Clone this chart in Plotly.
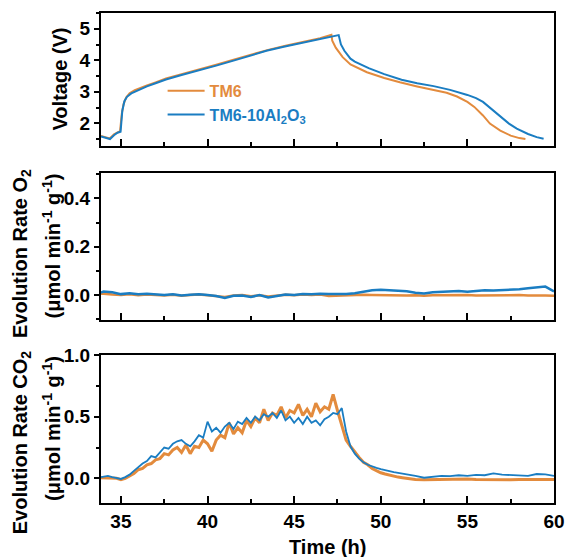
import plotly.graph_objects as go

ORANGE = "#E38B3D"
BLUE = "#1A7DC2"
NAME_A = "TM6"
NAME_B = "TM6-10Al<sub>2</sub>O<sub>3</sub>"

# ---------------- Voltage ----------------
v_t_a = [33.85, 34.1, 34.35, 34.6, 34.85, 34.95, 35.05, 35.15, 35.3, 35.5, 35.8, 36.1, 36.5, 37.0, 37.6,
         38.5, 39.5, 40.5, 41.5, 42.5, 43.5, 44.5, 45.5, 46.5, 47.15, 47.2, 47.4, 47.8, 48.25, 49.2, 50.2,
         51.1, 52.1, 53.05, 53.8, 54.4, 55.0, 55.4, 55.9, 56.3, 56.9, 57.5, 58.0, 58.35]
v_a = [1.6, 1.55, 1.52, 1.65, 1.72, 1.75, 2.3, 2.6, 2.82, 2.95, 3.05, 3.12, 3.2, 3.3, 3.42,
       3.56, 3.7, 3.86, 4.02, 4.18, 4.33, 4.46, 4.58, 4.7, 4.81, 4.62, 4.4, 4.1, 3.87, 3.62, 3.44,
       3.3, 3.17, 3.07, 2.97, 2.85, 2.68, 2.52, 2.25, 1.99, 1.77, 1.61, 1.53, 1.5]

v_t_b = [33.85, 34.1, 34.37, 34.6, 34.8, 34.98, 35.08, 35.2, 35.35, 35.6, 36.1, 36.5, 37.0, 37.6,
         38.5, 39.5, 40.5, 41.5, 42.5, 43.4, 44.4, 45.5, 46.5, 47.3, 47.57, 47.7, 47.9, 48.25, 48.5, 49.3,
         50.2, 51.2, 52.1, 53.05, 54.0, 55.0, 55.5, 55.9, 56.4, 56.9, 57.4, 57.85, 58.5, 59.0, 59.4]
v_b = [1.58, 1.53, 1.5, 1.62, 1.7, 1.73, 2.4, 2.7, 2.84, 2.95, 3.08, 3.17, 3.27, 3.39,
       3.53, 3.67, 3.83, 3.99, 4.15, 4.3, 4.43, 4.56, 4.67, 4.76, 4.8, 4.5, 4.3, 4.05, 3.96, 3.75,
       3.56, 3.38, 3.27, 3.18, 3.06, 2.9, 2.8, 2.68, 2.45, 2.2, 1.99, 1.83, 1.66, 1.56, 1.51]

# ---------------- O2 evolution ----------------
o2_t = [33.85, 34.0, 34.5, 35.0, 35.5, 36.0, 36.5, 37.0, 37.5, 38.0, 38.5, 39.0, 39.5, 40.0, 40.5,
        41.0, 41.5, 42.0, 42.5, 43.0, 43.5, 44.0, 44.5, 45.0, 45.5, 46.0, 46.5, 47.0, 47.5, 48.0,
        48.5, 49.0, 49.5, 50.0, 50.5, 51.0, 51.5, 52.0, 52.5, 53.0, 53.5, 54.0, 54.5, 55.0, 55.5,
        56.0, 56.5, 57.0, 57.5, 58.0, 58.5, 59.0, 59.5, 60.0]
o2_a = [0.005, 0.006, 0.002, 0.0, 0.003, -0.001, 0.002, 0.0, -0.002, 0.001, -0.003, 0.0, 0.002, -0.001, -0.004,
        -0.008, -0.002, 0.0, -0.005, -0.001, -0.006, -0.002, 0.001, -0.001, 0.002, 0.0, 0.002, -0.004, -0.002, -0.001,
        0.0, 0.001, 0.0, -0.001, 0.001, 0.0, -0.002, -0.001, -0.003, -0.001, 0.0, -0.002, -0.001, 0.0, -0.002,
        -0.001, 0.0, -0.002, -0.001, 0.0, -0.002, -0.001, -0.002, -0.003]
o2_b = [0.01, 0.015, 0.012, 0.004, 0.008, 0.003, 0.006, 0.004, 0.0, 0.003, -0.002, 0.001, 0.003, 0.0, -0.004,
        -0.012, -0.003, -0.002, -0.008, 0.0, -0.01, -0.004, 0.002, 0.0, 0.004, 0.003, 0.006, 0.005, 0.004, 0.005,
        0.008, 0.015, 0.02, 0.022, 0.02, 0.018, 0.016, 0.01, 0.007, 0.012, 0.014, 0.015, 0.017, 0.014, 0.018,
        0.02, 0.019, 0.02, 0.022, 0.024, 0.028, 0.033, 0.035, 0.015]

# ---------------- CO2 evolution ----------------
co2_t = [33.85, 34.0, 34.25, 34.5, 34.75, 35.0, 35.25, 35.5, 35.75, 36.0, 36.25, 36.5, 36.75, 37.0, 37.25,
         37.5, 37.75, 38.0, 38.25, 38.5, 38.75, 39.0, 39.25, 39.5, 39.75, 40.0, 40.25, 40.5, 40.75, 41.0,
         41.25, 41.5, 41.75, 42.0, 42.25, 42.5, 42.75, 43.0, 43.25, 43.5, 43.75, 44.0, 44.25, 44.5, 44.75,
         45.0, 45.25, 45.5, 45.75, 46.0, 46.25, 46.5, 46.75, 47.0, 47.25, 47.5, 47.75, 48.0, 48.25, 48.5,
         48.75, 49.0, 49.25, 49.5, 49.75, 50.0, 50.25, 50.5, 50.75, 51.0, 51.25, 51.5, 51.75, 52.0, 52.5,
         53.0, 53.5, 54.0, 54.5, 55.0, 55.5, 56.0, 56.5, 57.0, 57.5, 58.0, 58.5, 59.0, 59.5, 60.0]
co2_a = [0.005, 0.005, 0.0, 0.005, 0.0, -0.01, 0.0, 0.02, 0.04, 0.07, 0.08, 0.11, 0.12, 0.15, 0.16,
         0.2, 0.19, 0.23, 0.25, 0.21, 0.27, 0.2, 0.26, 0.25, 0.31, 0.28, 0.22, 0.31, 0.35, 0.33,
         0.45, 0.36, 0.41, 0.37, 0.47, 0.42, 0.49, 0.45, 0.56, 0.47, 0.53, 0.51, 0.58, 0.49, 0.55,
         0.53, 0.6, 0.51, 0.56, 0.5, 0.61, 0.54, 0.58, 0.56, 0.68, 0.55, 0.42, 0.31, 0.26, 0.21,
         0.17, 0.13, 0.11, 0.08, 0.06, 0.045, 0.035, 0.025, 0.015, 0.01, 0.005, 0.0, -0.005, -0.01, -0.012,
         -0.01, -0.008, -0.012, -0.01, -0.006, -0.01, -0.012, -0.008, -0.01, -0.012, -0.01, -0.008, -0.012, -0.01, -0.01]
co2_b = [0.01, 0.015, 0.02, 0.01, 0.0, -0.005, 0.01, 0.03, 0.06, 0.09, 0.12, 0.14, 0.18, 0.17, 0.21,
         0.25, 0.24, 0.28, 0.3, 0.31, 0.28, 0.26, 0.3, 0.35, 0.33, 0.46, 0.38, 0.41, 0.37, 0.42,
         0.45, 0.4, 0.46, 0.44, 0.49, 0.45, 0.5, 0.47, 0.52, 0.5, 0.53, 0.49, 0.55, 0.47, 0.5,
         0.45, 0.49, 0.44, 0.5, 0.45, 0.47, 0.43, 0.48, 0.5, 0.53, 0.52, 0.57, 0.38, 0.26, 0.2,
         0.16, 0.13, 0.11, 0.095, 0.085, 0.075, 0.065, 0.058, 0.05, 0.045, 0.04, 0.03, 0.028, 0.02, 0.005,
         0.015, 0.02, 0.018, 0.025, 0.02, 0.028, 0.025, 0.04, 0.03, 0.025, 0.022, 0.02, 0.035, 0.032, 0.02]

X_RANGE = [33.85, 60]
x_ticks = [35, 40, 45, 50, 55, 60]

FONT = "Liberation Sans, Arial, sans-serif"

fig = go.Figure()
fig.add_trace(go.Scatter(x=v_t_a, y=v_a, mode="lines", line=dict(color=ORANGE, width=2),
                         name=f"<span style='color:{ORANGE}'>{NAME_A}</span>", xaxis="x", yaxis="y"))
fig.add_trace(go.Scatter(x=v_t_b, y=v_b, mode="lines", line=dict(color=BLUE, width=2),
                         name=f"<span style='color:{BLUE}'>{NAME_B}</span>", xaxis="x", yaxis="y"))
fig.add_trace(go.Scatter(x=o2_t, y=o2_a, mode="lines", line=dict(color=ORANGE, width=2.5),
                         showlegend=False, xaxis="x2", yaxis="y2"))
fig.add_trace(go.Scatter(x=o2_t, y=o2_b, mode="lines", line=dict(color=BLUE, width=2.5),
                         showlegend=False, xaxis="x2", yaxis="y2"))
fig.add_trace(go.Scatter(x=co2_t, y=co2_a, mode="lines", line=dict(color=ORANGE, width=3),
                         showlegend=False, xaxis="x3", yaxis="y3"))
fig.add_trace(go.Scatter(x=co2_t, y=co2_b, mode="lines", line=dict(color=BLUE, width=1.8),
                         showlegend=False, xaxis="x3", yaxis="y3"))

tickfont = dict(family=FONT, size=19, color="black", weight="bold")

def xaxis(domain_anchor, show_labels):
    return dict(range=X_RANGE, tickvals=x_ticks, ticks="inside", ticklen=7, tickwidth=2,
                tickcolor="black", showline=True, linecolor="black", linewidth=2, mirror=True,
                showgrid=False, zeroline=False, showticklabels=show_labels, tickfont=tickfont,
                minor=dict(dtick=2.5, tick0=35, ticks="inside", ticklen=4, tickwidth=1.5, tickcolor="black"),
                anchor=domain_anchor, automargin=False)

def yaxis(domain, rng, dtick, mdtick, anchor, fmt):
    return dict(domain=domain, range=rng, dtick=dtick, tick0=0, ticks="outside", ticklen=5, tickwidth=2,
                tickcolor="black", showline=True, linecolor="black", linewidth=2, mirror=True,
                showgrid=False, zeroline=False, tickfont=tickfont, tickformat=fmt,
                minor=dict(dtick=mdtick, tick0=0, ticks="outside", ticklen=3, tickwidth=1.5, tickcolor="black"),
                anchor=anchor, automargin=False)

fig.update_layout(
    width=568, height=557,
    margin=dict(l=101, r=14, t=13, b=54),
    paper_bgcolor="white", plot_bgcolor="white",
    font=dict(family=FONT, color="black"),
    xaxis=xaxis("y", False),
    xaxis2=xaxis("y2", False),
    xaxis3=xaxis("y3", True),
    yaxis=yaxis([0.7286, 1.0], [1.28, 5.5], 1, 0.5, "x", "d"),
    yaxis2=yaxis([0.3735, 0.6735], [-0.103, 0.505], 0.2, 0.1, "x2", ".1f"),
    yaxis3=yaxis([0.0, 0.302], [-0.2, 1.0], 0.5, 0.25, "x3", ".1f"),
    legend=dict(x=0.136, y=0.876, xanchor="left", yanchor="top", bgcolor="rgba(0,0,0,0)",
                font=dict(family=FONT, size=16, weight="bold"), tracegroupgap=0, itemwidth=37),
)

tfont = dict(family=FONT, size=20, color="black", weight="bold")
ann = [
    ("Voltage (V)", -41, (0.7286 + 1.0) / 2),
    ("Evolution Rate O<sub>2</sub>", -80, 0.508),
    ("(μmol min<sup>-1</sup> g<sup>-1</sup>)", -50, (0.3735 + 0.6735) / 2),
    ("Evolution Rate CO<sub>2</sub>", -80, 0.124),
    ("(μmol min<sup>-1</sup> g<sup>-1</sup>)", -50, 0.302 / 2),
]
for text, xs, yc in ann:
    fig.add_annotation(text=text, x=0, y=yc, xref="paper", yref="paper", xanchor="center", yanchor="middle",
                       xshift=xs, textangle=-90, showarrow=False, font=tfont)

fig.add_annotation(text="Time (h)", x=0.5, y=0, xref="paper", yref="paper", xanchor="center", yanchor="middle",
                   yshift=-44, showarrow=False, font=tfont)

fig.write_html("out.html")
